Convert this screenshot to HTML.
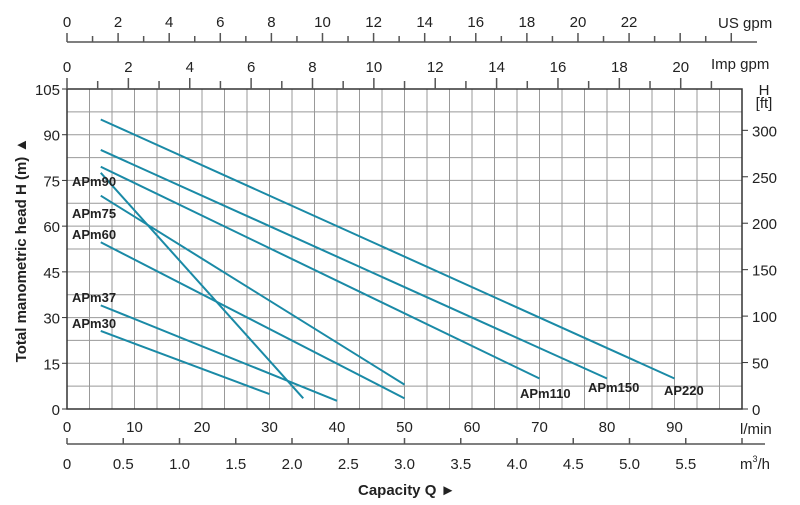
<!DOCTYPE html>
<html><head><meta charset="utf-8"><style>
body{margin:0;background:#fff;}
svg{display:block;font-family:"Liberation Sans",Arial,sans-serif;}
</style></head><body>
<svg id="c" width="800" height="505" viewBox="0 0 800 505"></svg>
<script>
const curveNames=["AP220","APm150","APm110","APm90","APm75","APm60","APm37","APm30"];
const curveQ=[[5,90],[5,80],[5,70],[5,35],[5,50],[5,50],[5,40],[5,30]];
const curveH=[[95,10],[85,10],[79.5,10],[77.5,3.5],[70,8],[54.7,3.5],[34,2.7],[25.6,4.9]];
const hTicks=[0,15,30,45,60,75,90,105];
const ftTicks=[0,50,100,150,200,250,300];
const lminTicks=[0,10,20,30,40,50,60,70,80,90];
const m3hTicks=[0,0.5,1.0,1.5,2.0,2.5,3.0,3.5,4.0,4.5,5.0,5.5];
const usTicks=[0,2,4,6,8,10,12,14,16,18,20,22];
const impTicks=[0,2,4,6,8,10,12,14,16,18,20];
const labelPos=[[664,395],[588,392],[520,398],[72,186],[72,218],[72,239],[72,302],[72,328]];

const svg=document.getElementById('c');const NS='http://www.w3.org/2000/svg';
const X0=67,PX=6.75,Y0=409,PY=320/105;
const x=q=>X0+q*PX, y=h=>Y0-h*PY;
function el(t,a,txt){const e=document.createElementNS(NS,t);for(const k in a)e.setAttribute(k,a[k]);if(txt!==undefined)e.textContent=txt;svg.appendChild(e);return e;}
for(let i=0;i<=30;i++){const g=el('line',{x1:x(i*10/3),x2:x(i*10/3),y1:y(0),y2:y(105),stroke:'#999','stroke-width':1});
}
for(let i=0;i<=14;i++){const g=el('line',{x1:x(0),x2:x(100),y1:y(i*7.5),y2:y(i*7.5),stroke:'#999','stroke-width':1});
}
el('rect',{x:x(0),y:y(105),width:x(100)-x(0),height:y(0)-y(105),fill:'none',stroke:'#333','stroke-width':1.5});
hTicks.forEach(v=>{el('line',{x1:x(0)-5,x2:x(0),y1:y(v),y2:y(v),stroke:'#333'});
const t=el('text',{x:x(0)-7,y:y(v)+6,'text-anchor':'end','font-size':15,fill:'#222'},v);
});
ftTicks.forEach(v=>{const yy=Y0-v*0.3048*PY;el('line',{x1:x(100),x2:x(100)+6,y1:yy,y2:yy,stroke:'#333'});
const t=el('text',{x:x(100)+10,y:yy+6,'font-size':15,fill:'#222'},v);
});
lminTicks.forEach(v=>{const t=el('text',{x:x(v),y:432,'text-anchor':'middle','font-size':15,fill:'#222'},v);
});
el('line',{x1:x(0),x2:765,y1:444,y2:444,stroke:'#555','stroke-width':1.5});
for(let v=0;v<=6;v+=0.5){el('line',{x1:x(v*1000/60),x2:x(v*1000/60),y1:438,y2:444,stroke:'#555','stroke-width':1.5});}
m3hTicks.forEach(v=>{const t=el('text',{x:x(v*1000/60),y:469,'text-anchor':'middle','font-size':15,fill:'#222'},v.toFixed(v===0?0:1));
});
el('line',{x1:x(0),x2:757,y1:42,y2:42,stroke:'#555','stroke-width':1.5});
for(let v=0;v<=26;v++){const xx=x(v*3.785);if(xx>750)break;el('line',{x1:xx,x2:xx,y1:v%2?36:33,y2:42,stroke:'#555','stroke-width':1.5});}
usTicks.forEach(v=>{const t=el('text',{x:x(v*3.785),y:27,'text-anchor':'middle','font-size':15,fill:'#222'},v);
});
for(let v=0;v<=22;v++){const xx=x(v*4.546);if(xx>742)break;el('line',{x1:xx,x2:xx,y1:v%2?81:78,y2:89,stroke:'#555','stroke-width':1.5});}
impTicks.forEach(v=>{const t=el('text',{x:x(v*4.546),y:72,'text-anchor':'middle','font-size':15,fill:'#222'},v);
});
curveNames.forEach((n,i)=>{const l=el('line',{x1:x(curveQ[i][0]),y1:y(curveH[i][0]),x2:x(curveQ[i][1]),y2:y(curveH[i][1]),stroke:'#1a8aa6','stroke-width':2});

const t=el('text',{x:labelPos[i][0],y:labelPos[i][1],'font-size':13,'font-weight':'bold',fill:'#222'},n);
});
</script>
<script>
(function(){const svg=document.getElementById('c');const NS='http://www.w3.org/2000/svg';
function tx(a,s,name){const e=document.createElementNS(NS,'text');for(const k in a)e.setAttribute(k,a[k]);e.textContent=s;
svg.appendChild(e);return e;}
tx({x:718,y:28,'font-size':15,fill:'#222'},'US gpm','us-gpm-unit');
tx({x:711,y:69,'font-size':15,fill:'#222'},'Imp gpm','imp-gpm-unit');
tx({x:764,y:95,'font-size':15,fill:'#222','text-anchor':'middle'},'H','ft-axis-title');
tx({x:764,y:108,'font-size':15,fill:'#222','text-anchor':'middle'},'[ft]','ft-axis-unit');
tx({x:740,y:434,'font-size':15,fill:'#222'},'l/min','lmin-unit');
const m=tx({x:740,y:469,'font-size':15,fill:'#222'},'m','m3h-unit');
const s=document.createElementNS(NS,'tspan');s.setAttribute('font-size',9);s.setAttribute('dy',-7);s.textContent='3';m.appendChild(s);
const s2=document.createElementNS(NS,'tspan');s2.setAttribute('dy',7);s2.textContent='/h';m.appendChild(s2);
tx({x:358,y:495,'font-size':15,'font-weight':'bold',fill:'#222'},'Capacity Q  \u25BA','x-axis-title');
tx({x:0,y:0,'font-size':15,'font-weight':'bold',fill:'#222','text-anchor':'middle',transform:'translate(26,250) rotate(-90)'},'Total manometric head H (m)  \u25B2','y-axis-title');
})();
</script>
</body></html>
